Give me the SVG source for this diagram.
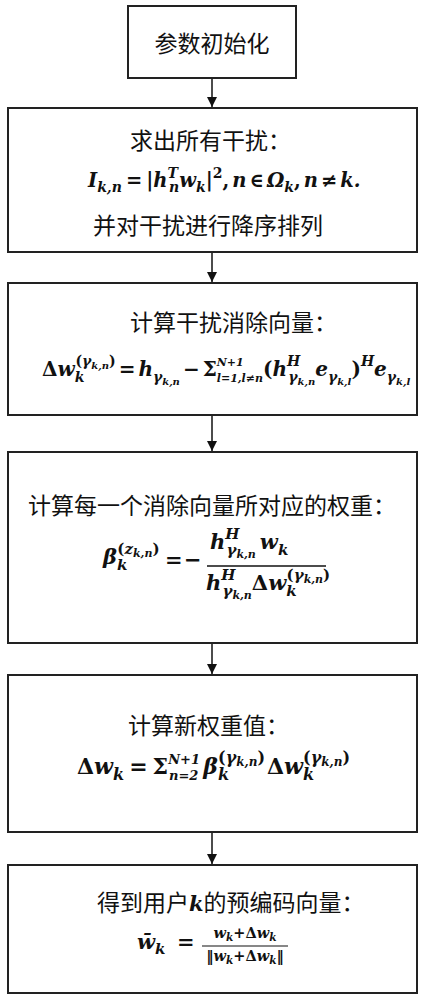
<svg xmlns="http://www.w3.org/2000/svg" width="426" height="1000" viewBox="0 0 426 1000">
<defs>
<style>
.box{fill:#fff;stroke:#222;stroke-width:2}
.cn{font-family:"Noto Sans CJK SC","Noto Sans",sans-serif;font-size:23px;fill:#111}
.m{font-family:"DejaVu Serif","Liberation Serif",serif;font-size:21px;font-weight:bold;font-style:italic;fill:#111}
.u{font-style:normal}
.s{font-size:15px}
.ss{font-size:11px}
.lim{font-size:12px}
.f1{font-size:19.5px}
.f1 .s{font-size:14px}
.f2{font-size:20px}
.f2 .s{font-size:14px}
.f2 .ss{font-size:10px}
.f2 .lim{font-size:11px}
.f4{font-size:22px}
.f4 .s{font-size:16px}
.f4 .ss{font-size:12px}
.f4 .lim{font-size:13px}
.f5{font-size:14.5px}
.f5 .ss{font-size:10.5px}
.conn{stroke:#111;stroke-width:1.5;fill:none}
</style>
<marker id="ah" viewBox="0 0 10 10" refX="10" refY="5" markerWidth="10" markerHeight="10" markerUnits="userSpaceOnUse" orient="auto">
<path d="M0,0 L10,5 L0,10 Z" fill="#111"/>
</marker>
</defs>
<rect width="426" height="1000" fill="#fff"/>
<g id="connectors">
<line class="conn" x1="212" y1="78" x2="212" y2="107" marker-end="url(#ah)"/>
<line class="conn" x1="212" y1="252" x2="212" y2="282" marker-end="url(#ah)"/>
<line class="conn" x1="212" y1="415" x2="212" y2="451" marker-end="url(#ah)"/>
<line class="conn" x1="212" y1="643" x2="212" y2="674" marker-end="url(#ah)"/>
<line class="conn" x1="212" y1="832" x2="212" y2="864" marker-end="url(#ah)"/>
</g>
<g id="n1">
<rect class="box" x="128" y="6" width="168" height="72"/>
<text class="cn" x="212" y="52" text-anchor="middle">参数初始化</text>
</g>
<g id="n2">
<rect class="box" x="8" y="108" width="409" height="144"/>
<text class="cn" x="130" y="148.5">求出所有干扰：</text>
<text class="m f1" x="88" y="187"><tspan>I</tspan><tspan class="s" dy="5">k,n</tspan><tspan class="u" dx="4" dy="-5">=</tspan><tspan class="u" dx="4">|</tspan><tspan>h</tspan><tspan class="s" dy="-9">T</tspan><tspan class="s" dx="-9" dy="14">n</tspan><tspan dy="-5">w</tspan><tspan class="s" dy="5">k</tspan><tspan class="u" dy="-5">|</tspan><tspan class="s u" dy="-9">2</tspan><tspan class="u" dy="9">,</tspan><tspan dx="3">n</tspan><tspan class="u" dx="3">∈</tspan><tspan dx="3">Ω</tspan><tspan class="s" dy="5">k</tspan><tspan class="u" dy="-5">,</tspan><tspan dx="3">n</tspan><tspan class="u" dx="3">≠</tspan><tspan dx="3">k.</tspan></text>
<text class="cn" x="93" y="233.5">并对干扰进行降序排列</text>
</g>
<g id="n3">
<rect class="box" x="8" y="283" width="409" height="132"/>
<text class="cn" x="130" y="330.5">计算干扰消除向量：</text>
<text class="m f2" x="42" y="376"><tspan class="u">Δ</tspan><tspan>w</tspan><tspan class="s" dy="6">k</tspan><tspan class="s u" dx="-9" dy="-16">(</tspan><tspan class="s">γ</tspan><tspan class="ss" dy="3">k,n</tspan><tspan class="s u" dy="-3">)</tspan><tspan class="u" dx="3" dy="10">=</tspan><tspan dx="3">h</tspan><tspan class="s" dy="6">γ</tspan><tspan class="ss" dy="3">k,n</tspan><tspan class="u" dx="3" dy="-9">−</tspan><tspan class="u" dx="3">Σ</tspan><tspan class="lim" dy="-10">N+1</tspan><tspan class="lim" dx="-27" dy="16">l=1,l≠n</tspan><tspan class="u" dy="-6">(</tspan><tspan>h</tspan><tspan class="s" dy="-10">H</tspan><tspan class="s" dx="-12" dy="16">γ</tspan><tspan class="ss" dy="3">k,n</tspan><tspan dy="-9">e</tspan><tspan class="s" dy="6">γ</tspan><tspan class="ss" dy="3">k,l</tspan><tspan class="u" dy="-9">)</tspan><tspan class="s" dy="-10">H</tspan><tspan dy="10">e</tspan><tspan class="s" dy="6">γ</tspan><tspan class="ss" dy="3">k,l</tspan></text>
</g>
<g id="n4">
<rect class="box" x="8" y="452" width="409" height="191"/>
<text class="cn" x="28" y="513.5">计算每一个消除向量所对应的权重：</text>
<text class="m" x="103" y="564"><tspan>β</tspan><tspan class="s" dy="6">k</tspan><tspan class="s u" dx="-10" dy="-16">(</tspan><tspan class="s">z</tspan><tspan class="ss" dy="3">k,n</tspan><tspan class="s u" dy="-3">)</tspan></text>
<text class="m u" x="165" y="567">=</text>
<text class="m u" x="184" y="567">−</text>
<text class="m" x="210" y="549"><tspan>h</tspan><tspan class="s" dy="-10">H</tspan><tspan class="s" dx="-13" dy="16">γ</tspan><tspan class="ss" dy="3">k,n</tspan><tspan dx="4" dy="-9">w</tspan><tspan class="s" dy="6">k</tspan></text>
<line x1="207" y1="566" x2="326" y2="566" stroke="#111" stroke-width="1.5"/>
<text class="m" x="206" y="590"><tspan>h</tspan><tspan class="s" dy="-10">H</tspan><tspan class="s" dx="-13" dy="16">γ</tspan><tspan class="ss" dy="3">k,n</tspan><tspan class="u" dy="-9">Δ</tspan><tspan>w</tspan><tspan class="s" dy="6">k</tspan><tspan class="s u" dx="-10" dy="-16">(</tspan><tspan class="s">γ</tspan><tspan class="ss" dy="3">k,n</tspan><tspan class="s u" dy="-3">)</tspan></text>
</g>
<g id="n5">
<rect class="box" x="8" y="675" width="409" height="157"/>
<text class="cn" x="128" y="733.5">计算新权重值：</text>
<text class="m f4" x="77" y="774"><tspan class="u">Δ</tspan><tspan>w</tspan><tspan class="s" dy="6">k</tspan><tspan class="u" dx="5" dy="-6">=</tspan><tspan class="u" dx="5">Σ</tspan><tspan class="lim" dy="-10">N+1</tspan><tspan class="lim" dx="-31" dy="16">n=2</tspan><tspan dx="5" dy="-6">β</tspan><tspan class="s" dy="6">k</tspan><tspan class="s u" dx="-11" dy="-17">(</tspan><tspan class="s">γ</tspan><tspan class="ss" dy="3">k,n</tspan><tspan class="s u" dy="-3">)</tspan><tspan class="u" dx="2" dy="11">Δ</tspan><tspan>w</tspan><tspan class="s" dy="6">k</tspan><tspan class="s u" dx="-11" dy="-17">(</tspan><tspan class="s">γ</tspan><tspan class="ss" dy="3">k,n</tspan><tspan class="s u" dy="-3">)</tspan></text>
</g>
<g id="n6">
<rect class="box" x="8" y="865" width="409" height="128"/>
<text class="cn" x="97" y="910.5">得到用户<tspan class="m" font-size="22">k</tspan>的预编码向量：</text>
<text class="m" x="137" y="949"><tspan>w̄</tspan><tspan class="s" dy="5">k</tspan></text>
<text class="m u" x="177" y="949">=</text>
<text class="m f5" x="245" y="938" text-anchor="middle"><tspan>w</tspan><tspan class="ss" dy="3">k</tspan><tspan class="u" dy="-3">+Δ</tspan><tspan>w</tspan><tspan class="ss" dy="3">k</tspan></text>
<line x1="202" y1="946" x2="288" y2="946" stroke="#111" stroke-width="1.2"/>
<text class="m f5" x="245" y="961" text-anchor="middle"><tspan class="u">‖</tspan><tspan>w</tspan><tspan class="ss" dy="3">k</tspan><tspan class="u" dy="-3">+Δ</tspan><tspan>w</tspan><tspan class="ss" dy="3">k</tspan><tspan class="u" dy="-3">‖</tspan></text>
</g>
</svg>
